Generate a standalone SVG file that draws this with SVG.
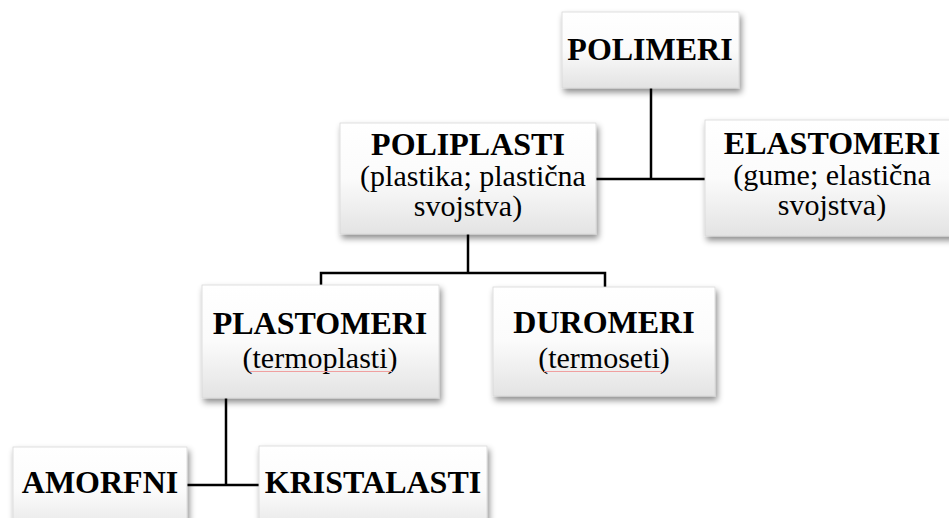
<svg xmlns="http://www.w3.org/2000/svg" width="949" height="518" viewBox="0 0 949 518">
<style>
.box{fill:url(#g);stroke:#d8d8d8;stroke-width:0.8;filter:url(#sh)}
.b{font-family:'Liberation Serif','DejaVu Serif',serif;font-weight:bold;font-size:32px;fill:#000;text-anchor:middle}
.r{font-family:'Liberation Serif','DejaVu Serif',serif;font-size:30px;fill:#000;text-anchor:middle}
.c{stroke:#000;stroke-width:2.5;fill:none}
.sp{stroke:#f0a0a0;stroke-width:1;fill:none}
</style>
<defs>
<linearGradient id="g" x1="0" y1="0" x2="0" y2="1">
<stop offset="0" stop-color="#ffffff"/>
<stop offset="0.5" stop-color="#fbfbfb"/>
<stop offset="1" stop-color="#e3e3e3"/>
</linearGradient>
<filter id="sh" x="-10%" y="-10%" width="125%" height="135%">
<feDropShadow dx="2" dy="4" stdDeviation="3" flood-color="#000" flood-opacity="0.45"/>
</filter>
</defs>
<rect width="949" height="518" fill="#fff"/>
<g id="connectors">
<path class="c" d="M651 88 V179"/>
<path class="c" d="M596 179 H705"/>
<path class="c" d="M468 234 V273"/>
<path class="c" d="M321 285 V273 H605 V287"/>
<path class="c" d="M226 398 V485"/>
<path class="c" d="M187 485 H259"/>
</g>
<g id="polimeri">
<rect class="box" x="562" y="12" width="177" height="76"/>
<text class="b" x="650" y="60">POLIMERI</text>
</g>
<g id="poliplasti">
<rect class="box" x="340" y="123" width="256" height="111"/>
<text class="b" x="468" y="155">POLIPLASTI</text>
<text class="r" x="473" y="186">(plastika; plastična</text>
<text class="r" x="468" y="216">svojstva)</text>
</g>
<g id="elastomeri">
<rect class="box" x="705" y="120" width="260" height="116"/>
<text class="b" x="832" y="154">ELASTOMERI</text>
<text class="r" x="832" y="185">(gume; elastična</text>
<text class="r" x="832" y="215">svojstva)</text>
</g>
<g id="plastomeri">
<rect class="box" x="202" y="285" width="237" height="113"/>
<text class="b" x="320" y="334">PLASTOMERI</text>
<text class="r" x="320" y="368">(termoplasti)</text>
<path class="sp" d="M250 371.5 H392"/>
</g>
<g id="duromeri">
<rect class="box" x="493" y="287" width="222" height="109"/>
<text class="b" x="604" y="333">DUROMERI</text>
<text class="r" x="604" y="368">(termoseti)</text>
<path class="sp" d="M544 371.5 H663"/>
</g>
<g id="amorfni">
<rect class="box" x="13" y="447" width="174" height="90"/>
<text class="b" x="100" y="493">AMORFNI</text>
</g>
<g id="kristalasti">
<rect class="box" x="259" y="446" width="228" height="90"/>
<text class="b" x="373" y="493">KRISTALASTI</text>
</g>
</svg>
